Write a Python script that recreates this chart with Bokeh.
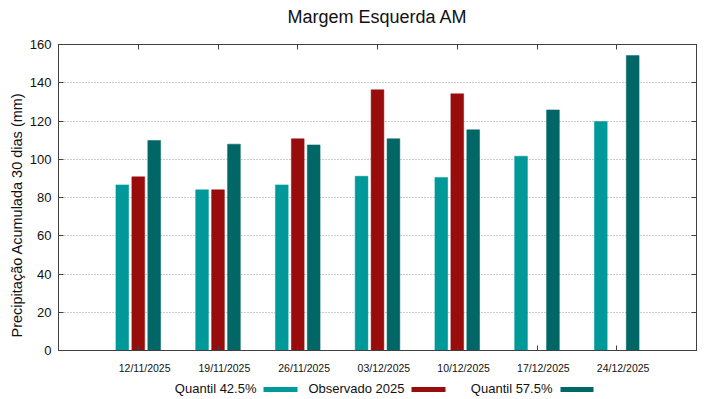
import numpy as np
from bokeh.plotting import figure
from bokeh.layouts import column
from bokeh.models import (ColumnDataSource, FixedTicker, LinearAxis, Range1d,
                          Title, CustomLabelingPolicy)
from bokeh.core.properties import value
from bokeh.transform import dodge
from bokeh.embed import file_html
from bokeh.resources import INLINE

# ---- data ----
title_text = "Margem Esquerda AM"
y_title = "Precipitação Acumulada 30 dias (mm)"
dates = ["12/11/2025", "19/11/2025", "26/11/2025", "03/12/2025",
         "10/12/2025", "17/12/2025", "24/12/2025"]
q425 = [86.6, 84.0, 86.6, 91.1, 90.5, 101.6, 119.7]
obs2025 = [90.8, 84.0, 110.7, 136.3, 134.2, np.nan, np.nan]
q575 = [109.8, 107.9, 107.5, 110.7, 115.4, 125.8, 154.2]
y_ticks = [0, 20, 40, 60, 80, 100, 120, 140, 160]
series_names = ["Quantil 42.5%", "Observado 2025", "Quantil 57.5%"]
colors = ["#009999", "#990c0c", "#006666"]

FONT = "Liberation Sans"
AXIS_COLOR = "#404040"
TEXT_COLOR = "#111111"
W = 719
BL, BR = 58, 23


def strip(height):
    f = figure(width=W, height=height, x_range=Range1d(BL, W - BR), y_range=Range1d(0, height),
               output_backend="svg", toolbar_location=None,
               x_axis_location=None, y_axis_location=None,
               min_border=0, min_border_left=BL, min_border_right=BR,
               min_border_top=0, min_border_bottom=0)
    f.outline_line_color = None
    f.xgrid.visible = False
    f.ygrid.visible = False
    f.background_fill_color = "white"
    f.border_fill_color = "white"
    return f


# ---- title strip ----
TH = 30
tt = strip(TH)
tt.text(x=[(BL + W - BR) / 2], y=[TH - 16], text=[title_text], text_align="center",
        text_baseline="middle", text_font=value(FONT), text_font_size="18px",
        text_color=TEXT_COLOR)

# ---- main chart ----
idx = list(range(len(dates)))
src = ColumnDataSource(dict(x=idx, q425=q425, obs=obs2025, q575=q575))

p = figure(width=W, height=346, x_range=Range1d(-1, 7), y_range=Range1d(0, 160),
           output_backend="svg", toolbar_location=None,
           x_axis_location=None, y_axis_location=None,
           min_border_left=BL, min_border_right=BR, min_border_top=14,
           min_border_bottom=26)
p.outline_line_color = AXIS_COLOR
p.background_fill_color = "white"
p.border_fill_color = "white"

w = 0.16
for col, off, c in [("q425", -0.2, colors[0]), ("obs", 0.0, colors[1]), ("q575", 0.2, colors[2])]:
    p.vbar(x=dodge("x", off, range=p.x_range), top=col, bottom=0, width=w,
           source=src, fill_color=c, line_color=c, line_width=0.5)

p.xgrid.visible = False
p.ygrid.ticker = FixedTicker(ticks=y_ticks)
p.ygrid.grid_line_color = "#9a9a9a"
p.ygrid.grid_line_dash = "1 2"
p.ygrid.grid_line_width = 1


def style_axis(ax):
    ax.axis_line_color = AXIS_COLOR
    ax.major_tick_line_color = AXIS_COLOR
    ax.minor_tick_line_color = None
    ax.major_tick_out = 0
    ax.major_tick_in = 5
    ax.major_label_text_font = FONT


NO_LABELS = """
try {
  const n = indices.size;
  for (let i = 0; i < n; i++) { indices.unset(i); }
  return indices;
} catch (e) {}
try { return new indices.constructor(indices.size); } catch (e) {}
return indices;
"""


def ticks_only(ax):
    ax.major_label_policy = CustomLabelingPolicy(code=NO_LABELS)
    ax.major_label_text_font_size = "1px"
    ax.major_label_standoff = 0


yl = LinearAxis(ticker=FixedTicker(ticks=y_ticks))
style_axis(yl)
yl.major_label_text_font_size = "13px"
yl.major_label_text_color = TEXT_COLOR
yl.major_label_standoff = 7
p.add_layout(yl, "left")

ytitle = Title(text=y_title, align="left",
               text_font=FONT, text_font_size="14.5px", text_font_style="normal",
               text_color=TEXT_COLOR, offset=13, standoff=4)
p.add_layout(ytitle, "left")

yr = LinearAxis(ticker=FixedTicker(ticks=y_ticks))
style_axis(yr)
ticks_only(yr)
p.add_layout(yr, "right")

xt = LinearAxis(ticker=FixedTicker(ticks=idx))
style_axis(xt)
ticks_only(xt)
p.add_layout(xt, "above")

xb = LinearAxis(ticker=FixedTicker(ticks=idx))
style_axis(xb)
ticks_only(xb)
p.add_layout(xb, "below")

lab_off = 0.08
lab_ticks = [i + lab_off for i in idx]
xl = LinearAxis(ticker=FixedTicker(ticks=lab_ticks),
                major_label_overrides={t: d for t, d in zip(lab_ticks, dates)})
xl.axis_line_color = None
xl.major_tick_line_color = None
xl.minor_tick_line_color = None
xl.major_tick_out = 0
xl.major_tick_in = 0
xl.major_label_text_font = FONT
xl.major_label_text_font_size = "10.5px"
xl.major_label_text_color = TEXT_COLOR
xl.major_label_standoff = 7
p.add_layout(xl, "below")

# ---- legend strip (text followed by colour sample, as in the reference) ----
LH = 23
lg = strip(LH)
text_right = [256, 404, 552]
sw_left = [263, 411, 560]
sw_right = [297, 445, 593]
lg.text(x=text_right, y=[11.5] * 3, text=series_names, text_align="right",
        text_baseline="middle", text_font=value(FONT),
        text_font_size="13px", text_color=TEXT_COLOR)
lg.quad(left=sw_left, right=sw_right, bottom=[7.5] * 3, top=[12.5] * 3,
        fill_color=colors, line_color=None)

layout = column(tt, p, lg, spacing=0)
open("out.html", "w").write(file_html(layout, INLINE))
